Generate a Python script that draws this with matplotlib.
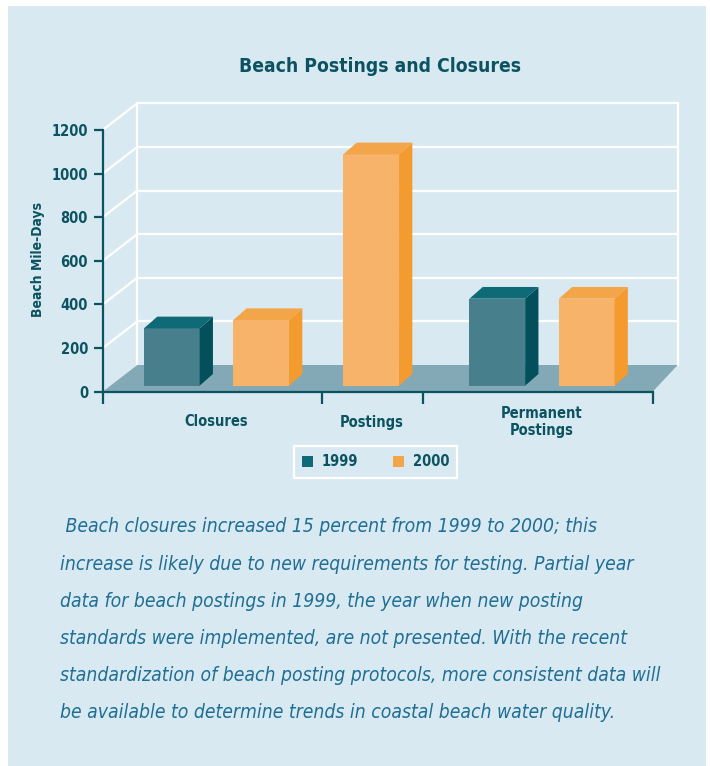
import numpy as np
import matplotlib
matplotlib.use("Agg")
import matplotlib.pyplot as plt
from matplotlib import font_manager as fm
from matplotlib.patches import Polygon, Rectangle, Patch

# ---------------- data ----------------
categories = ["Closures", "Postings", "Permanent\nPostings"]
series_names = ["1999", "2000"]
values_1999 = [263, np.nan, 399]
values_2000 = [301, 1061, 399]
y_ticks = [0, 200, 400, 600, 800, 1000, 1200]
title = "Beach Postings and Closures"
y_label = "Beach Mile-Days"
caption_lines = [
    " Beach closures increased 15 percent from 1999 to 2000; this",
    "increase is likely due to new requirements for testing. Partial year",
    "data for beach postings in 1999, the year when new posting",
    "standards were implemented, are not presented. With the recent",
    "standardization of beach posting protocols, more consistent data will",
    "be available to determine trends in coastal beach water quality.",
]

# ---------------- fonts: prefer a condensed face ----------------
def pick_font(bold, italic):
    cands = []
    for f in fm.fontManager.ttflist:
        st = str(f.stretch).lower()
        condensed = ("condensed" in st and "semi" not in st) or "narrow" in f.name.lower() \
            or "condensed" in f.name.lower()
        semi = "semi-condensed" in st or "semicondensed" in f.fname.lower()
        if not (condensed or semi):
            continue
        w = f.weight if isinstance(f.weight, int) else fm.weight_dict.get(str(f.weight), 400)
        is_bold = w >= 600
        is_it = str(f.style) in ("italic", "oblique")
        if is_bold != bold or is_it != italic:
            continue
        if "extra" in st or "ultra" in st or "extra" in f.fname.lower():
            continue
        score = 0 if condensed else 1
        if "Mono" in f.name or "Serif" in f.name:
            score += 5
        cands.append((score, abs(w - (700 if bold else 400)), f.fname))
    if cands:
        cands.sort()
        return fm.FontProperties(fname=cands[0][2])
    return fm.FontProperties(family=["Roboto", "DejaVu Sans"],
                             weight="bold" if bold else "normal",
                             style="italic" if italic else "normal")

FP_BOLD = pick_font(True, False)
FP_IT = pick_font(False, True)

# ---------------- style ----------------
BG = "#d9e9f1"
AX = "#0b5361"
CAP = "#1f6f94"
FLOOR = "#83a8b6"
FRONT = {"1999": "#477f8c", "2000": "#f7b36a"}
SIDE = {"1999": "#03505c", "2000": "#f39b2f"}
TOP = {"1999": "#0e6a76", "2000": "#f2a649"}
SMALL = 10.5

W, H = 710, 766
fig = plt.figure(figsize=(W / 100, H / 100), dpi=100)
fig.patch.set_facecolor("white")
fig.add_artist(Rectangle((8 / W, 0), (706 - 8) / W, 1 - 6 / H, transform=fig.transFigure,
                         facecolor=BG, edgecolor="none", zorder=0))
renderer = fig.canvas.get_renderer()


def fp(base, size):
    p = base.copy()
    p.set_size(size)
    return p


def fit_size(text, base, target_px, start=12.0):
    t = fig.text(0, 0, text, fontproperties=fp(base, start))
    w = t.get_window_extent(renderer).width
    t.remove()
    return start * target_px / w


# front plane axes
x_left_px, x_right_px, y0_px, ytop_px = 102.7, 652.7, 391.7, 130.0
XMAX = x_right_px - x_left_px
ax = fig.add_axes([x_left_px / W, 1 - y0_px / H, XMAX / W, (y0_px - ytop_px) / H])
ax.set_xlim(0, XMAX)
ax.set_ylim(0, 1200)
ax.patch.set_visible(False)
PXV = (y0_px - ytop_px) / 1200.0  # pixels per value unit

# depth geometry
DX_L = 34.6
DX_R = 25.0
DY = 26.7 / PXV
wall_right = XMAX + DX_R

for v in y_ticks[1:]:
    ax.plot([DX_L, wall_right], [v + DY, v + DY], color="white", lw=1.6, clip_on=False, zorder=1)
    ax.plot([0, DX_L], [v, v + DY], color="white", lw=1.6, clip_on=False, zorder=1)
ax.plot([DX_L, DX_L], [DY, 1200 + DY], color="white", lw=1.6, clip_on=False, zorder=1)
ax.plot([wall_right, wall_right], [DY, 1200 + DY], color="white", lw=1.6, clip_on=False, zorder=1)

ax.add_patch(Polygon([(0, 0), (XMAX, 0), (wall_right, DY), (DX_L, DY)], closed=True,
                     facecolor=FLOOR, edgecolor="none", clip_on=False, zorder=2))

# bars
cat_bounds = [0, 219, 320, XMAX]
BW = 55.7
HALF_GAP = 44.7
PAIR_SHIFT = 4.3
yb = 6.0 / PXV
bdx = 13.3
bdy = 11.7 / PXV
label_x = []
for i, cat in enumerate(categories):
    c = (cat_bounds[i] + cat_bounds[i + 1]) / 2
    present = [(s, vals[i]) for s, vals in zip(series_names, [values_1999, values_2000])
               if not np.isnan(vals[i])]
    if len(present) == 2:
        centers = [c + PAIR_SHIFT - HALF_GAP, c + PAIR_SHIFT + HALF_GAP]
    else:
        centers = [c - 1.0]
    label_x.append(np.mean(centers))
    for (s, v), xc in zip(present, centers):
        xl, xr = xc - BW / 2, xc + BW / 2
        yt = yb + v
        ax.add_patch(Rectangle((xl, yb), BW, v, facecolor=FRONT[s], edgecolor="none",
                               clip_on=False, zorder=4))
        ax.add_patch(Polygon([(xr, yb), (xr + bdx, yb + bdy), (xr + bdx, yt + bdy), (xr, yt)],
                             closed=True, facecolor=SIDE[s], edgecolor="none", clip_on=False, zorder=4))
        ax.add_patch(Polygon([(xl, yt), (xl + bdx, yt + bdy), (xr + bdx, yt + bdy), (xr, yt)],
                             closed=True, facecolor=TOP[s], edgecolor="none", clip_on=False, zorder=4))

for xc, cat in zip(label_x, categories):
    ax.text(xc, -(422 - y0_px) / PXV, cat, ha="center", va="center",
            fontproperties=fp(FP_BOLD, SMALL), color=AX, linespacing=1.15, clip_on=False)

for sp in ["top", "right"]:
    ax.spines[sp].set_visible(False)
for sp in ["left", "bottom"]:
    ax.spines[sp].set_color(AX)
    ax.spines[sp].set_linewidth(1.6)
    ax.spines[sp].set_zorder(5)
ax.set_yticks(y_ticks)
ax.set_yticklabels([str(t) for t in y_ticks])
ax.tick_params(axis="y", direction="out", length=6.5, width=1.6, color=AX, pad=4,
               labelcolor=AX)
for lab in ax.get_yticklabels():
    lab.set_fontproperties(fp(FP_BOLD, SMALL))
ax.set_xticks(cat_bounds)
ax.set_xticklabels([""] * len(cat_bounds))
ax.tick_params(axis="x", direction="out", length=8.5, width=1.6, color=AX)

# y label
fig.text(38 / W, 1 - 259 / H, y_label, rotation=90, ha="center", va="center",
         fontproperties=fp(FP_BOLD, 10.0), color=AX)

# title (~281 px wide)
t_size = fit_size(title, FP_BOLD, 281)
fig.text(380.5 / W, 1 - 66.5 / H, title, ha="center", va="center",
         fontproperties=fp(FP_BOLD, t_size), color=AX)

# legend
handles = [Patch(facecolor=TOP["1999"], edgecolor="none"), Patch(facecolor=TOP["2000"], edgecolor="none")]
leg = fig.legend(handles, series_names, loc="center", bbox_to_anchor=(375.5 / W, 1 - 462 / H),
                 ncol=2, frameon=True, fancybox=False, facecolor=BG, edgecolor="white",
                 framealpha=1, handlelength=0.75, handleheight=0.75, handletextpad=0.6,
                 columnspacing=2.4, borderpad=0.55, borderaxespad=0,
                 prop=fp(FP_BOLD, SMALL), labelcolor=AX)
leg.get_frame().set_linewidth(1.6)

# caption (longest line ~598 px wide)
cap_size = fit_size(caption_lines[4], FP_IT, 598)
for k, line in enumerate(caption_lines):
    fig.text(60 / W, 1 - (527 + 37.2 * k) / H, line, ha="left", va="center",
             fontproperties=fp(FP_IT, cap_size), color=CAP)

fig.savefig("out.png", dpi=100, facecolor="white")
